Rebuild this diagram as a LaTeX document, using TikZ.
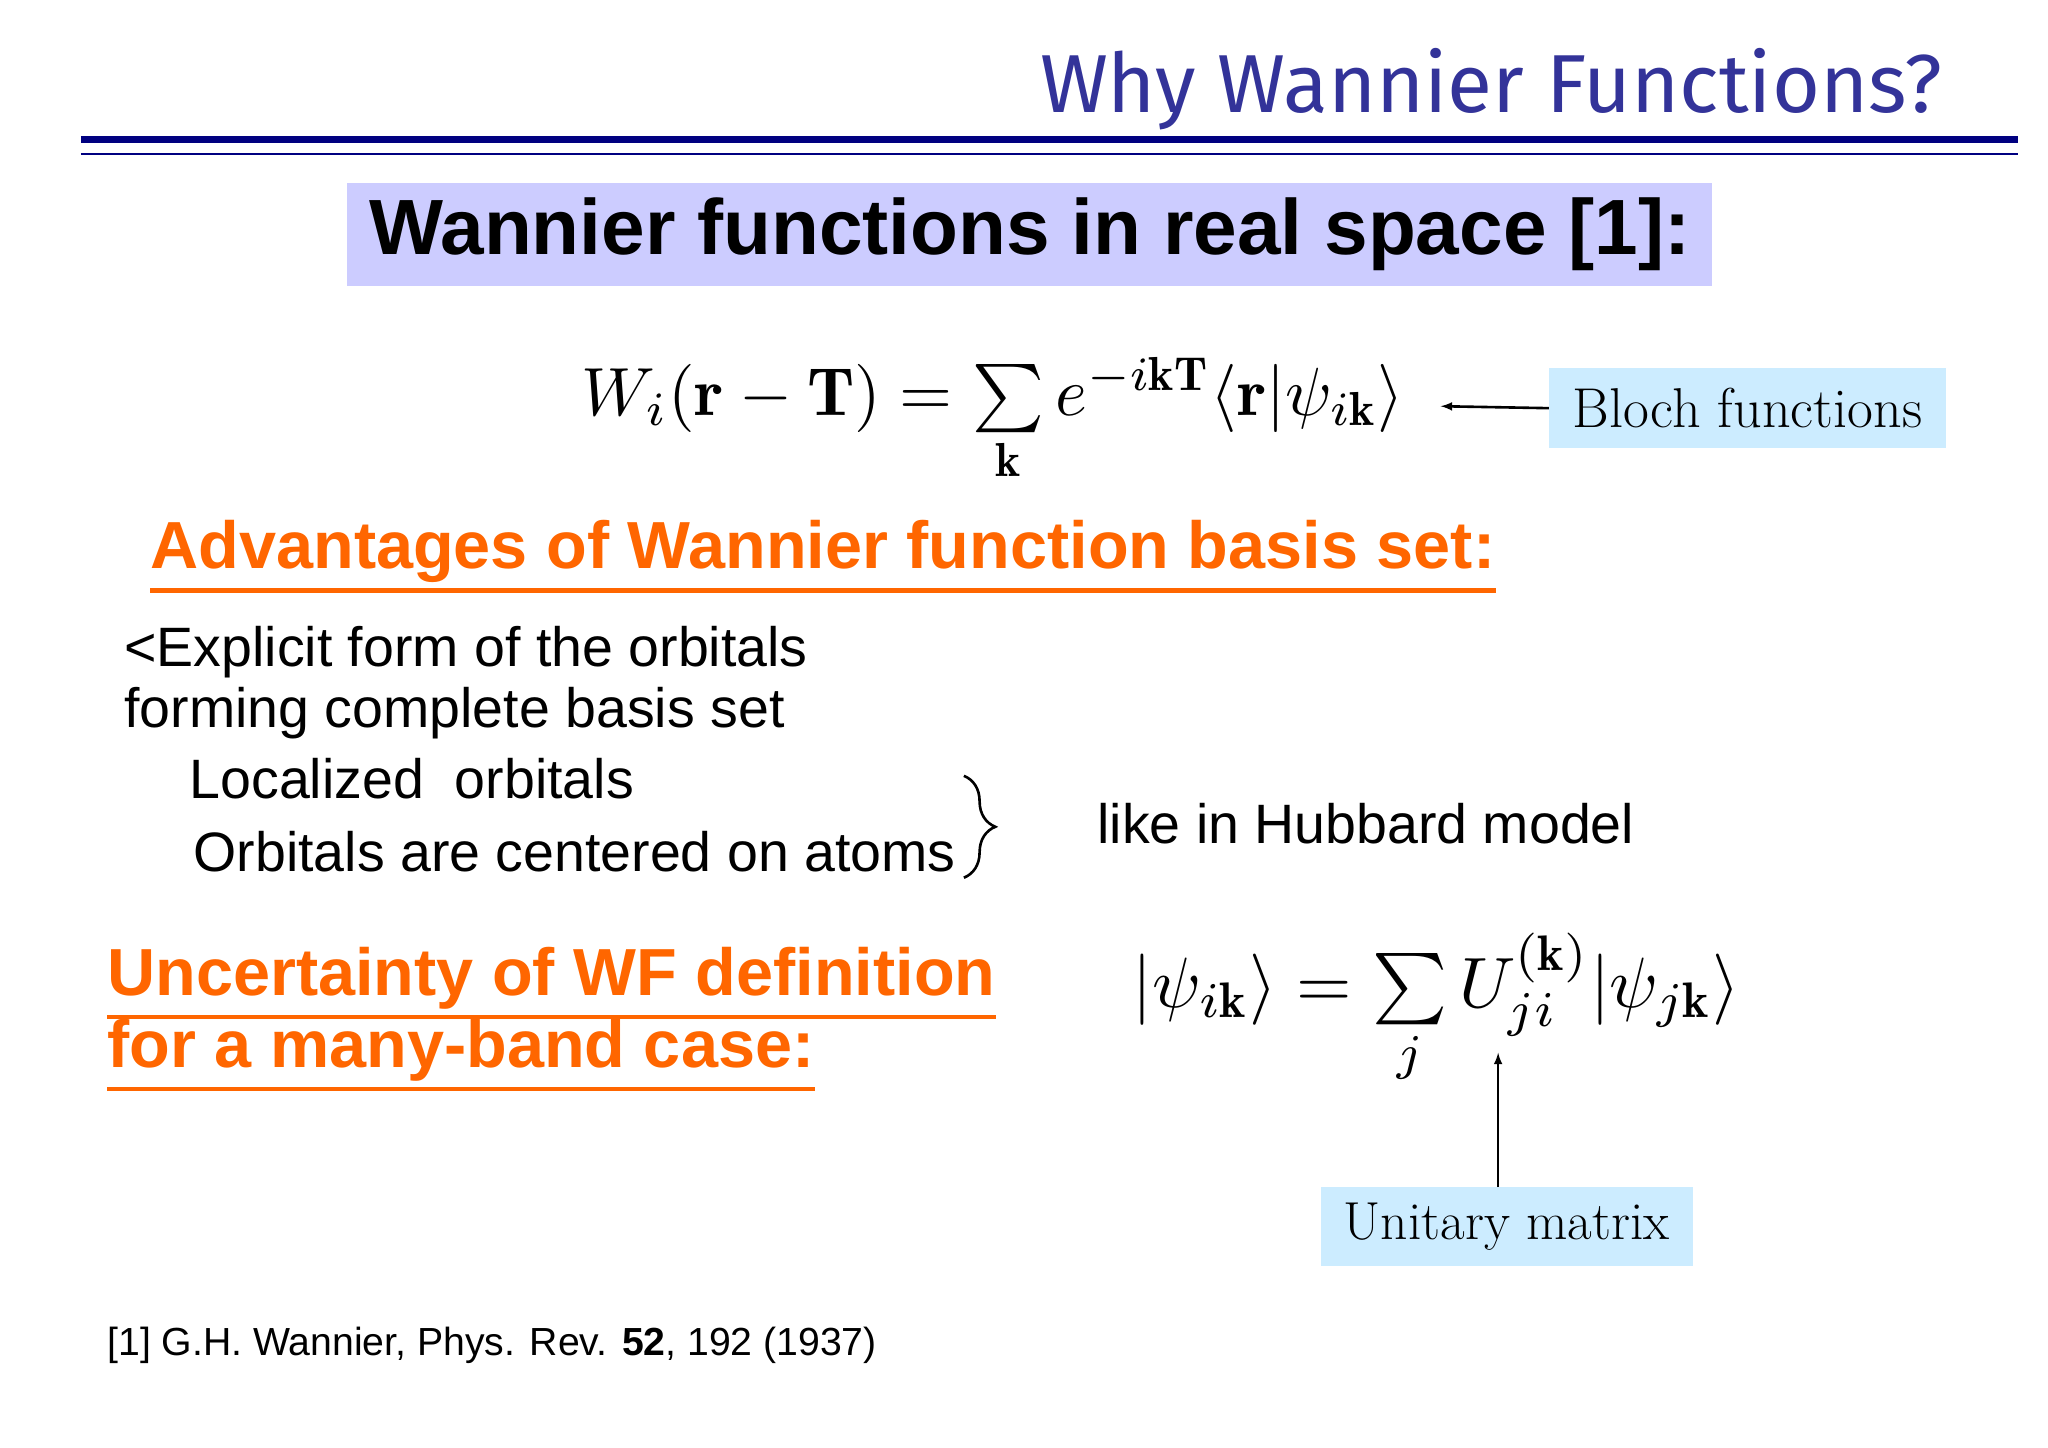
\documentclass[tikz,border=0pt]{standalone}
\usepackage{amsmath,amssymb,graphicx}
\usepackage{fontspec}
\setsansfont{Liberation Sans}
\newfontfamily\titlefont{Fira Sans}
\usetikzlibrary{decorations.pathreplacing}
\definecolor{navy}{RGB}{0,0,128}
\definecolor{ttl}{RGB}{51,51,153}
\definecolor{lav}{RGB}{204,204,255}
\definecolor{lblue}{RGB}{204,236,255}
\definecolor{orng}{RGB}{255,102,0}
\tikzset{
  body/.style={font=\sffamily\fontsize{42.5}{46}\selectfont, anchor=base west, inner sep=0pt},
  head/.style={font=\sffamily\bfseries\fontsize{51}{56}\selectfont, text=orng, anchor=base west, inner sep=0pt},
  uline/.style={orng, line width=3.5pt},
  lbl/.style={fill=lblue, inner sep=0pt},
  eq/.style={inner sep=0pt},
  arr/.style={-latex, line width=2pt}
}
\begin{document}
\begin{tikzpicture}[x=1pt,y=-1pt]
\useasboundingbox (0,0) rectangle (1568,1108);
\node[font=\titlefont\fontsize{63}{66}\selectfont, text=ttl, anchor=base east, inner sep=0pt] (title) at (1487,86) {Why Wannier Functions?};
\draw[navy, line width=5pt] (62,107) -- (1545,107);
\draw[navy, line width=2pt] (62,118) -- (1545,118);
\node[fill=lav, minimum width=1045pt, minimum height=79pt, inner sep=0pt, font=\sffamily\bfseries\fontsize{60}{64}\selectfont] (box) at (788.5,179.5) {Wannier functions in real space [1]:};
\node[eq] (eq1) at (760,322) {\resizebox{630pt}{!}{$W_i(\mathbf{r}-\mathbf{T})=\sum\limits_{\mathbf{k}} e^{-i\mathbf{k}\mathbf{T}}\langle\mathbf{r}|\psi_{i\mathbf{k}}\rangle$}};
\node[lbl, minimum width=304pt, minimum height=61pt, font=\rmfamily\fontsize{43}{46}\selectfont] (bloch) at (1338,312.5) {Bloch functions};
\coordinate (a1) at (1103,311);
\draw[arr] (bloch.west) -- (a1);
\node[head] (adv) at (115,435) {Advantages of Wannier function basis set:};
\draw[uline] ([yshift=-6pt]adv.south west) -- ([yshift=-6pt]adv.south east);
\node[body] (l1) at (95,510) {<Explicit form of the orbitals};
\node[body] (l2) at (95,557) {forming complete basis set};
\node[body] (l3) at (145,611) {Localized\ \ orbitals};
\node[body] (l4) at (148,667) {Orbitals are centered on atoms};
\draw[line width=2pt, decorate, decoration={brace, amplitude=24pt, aspect=0.5}] (738,594) -- (738,672);
\node[body] (hub) at (840,646) {like in Hubbard model};
\node[head] (unc1) at (82,762) {Uncertainty of WF definition};
\draw[uline] ([yshift=-6pt]unc1.south west) -- ([yshift=-6pt]unc1.south east);
\node[head] (unc2) at (82,817) {for a many-band case:};
\draw[uline] ([yshift=-6pt]unc2.south west) -- ([yshift=-6pt]unc2.south east);
\node[eq] (eq2) at (1100,773) {\resizebox{465pt}{!}{$|\psi_{i\mathbf{k}}\rangle=\sum\limits_{j} U_{ji}^{(\mathbf{k})}|\psi_{j\mathbf{k}}\rangle$}};
\node[lbl, minimum width=285pt, minimum height=60pt, font=\rmfamily\fontsize{41}{44}\selectfont] (unit) at (1153.5,939) {Unitary matrix};
\coordinate (a2) at (1147,806);
\draw[arr] (unit.north -| a2) -- (a2);
\node[body, font=\sffamily\fontsize{30}{34}\selectfont] (ref) at (82,1038) {[1] G.H. Wannier, Phys. Rev. \textbf{52}, 192 (1937)};
\end{tikzpicture}
\end{document}
